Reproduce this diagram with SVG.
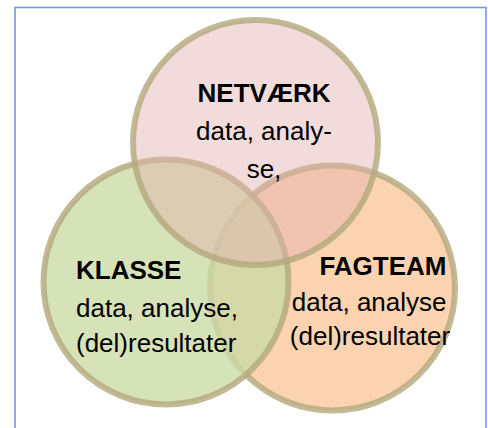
<svg xmlns="http://www.w3.org/2000/svg" width="488" height="428" viewBox="0 0 488 428">
<style>
.c{stroke:#b3a97c;stroke-opacity:0.8;stroke-width:6}
.b{font-family:"Liberation Sans",Arial,sans-serif;font-size:26px;font-weight:bold;fill:#000}
.r{font-family:"Liberation Sans",Arial,sans-serif;font-size:26px;fill:#000}
</style>
<rect width="488" height="428" fill="#fff"/>
<rect id="frame" x="15" y="7.5" width="471" height="440" fill="none" stroke="#6b9be2" stroke-width="1.6"/>
<g id="fagteam">
<circle class="c" cx="332.5" cy="288" r="122.5" fill="#fbd3b0"/>
</g>
<g id="klasse">
<circle class="c" cx="166" cy="282" r="122.5" fill="#ccdba6" fill-opacity="0.8"/>
</g>
<g id="netvaerk">
<circle class="c" cx="255.5" cy="142.5" r="122.5" fill="#e3b2af" fill-opacity="0.45"/>
</g>
<g id="texts">
<text class="b" x="264" y="102" text-anchor="middle">NETVÆRK</text>
<text class="r" x="264" y="140" text-anchor="middle">data, analy-</text>
<text class="r" x="264" y="178" text-anchor="middle">se,</text>
<text class="b" x="76" y="279">KLASSE</text>
<text class="r" x="76" y="316.5">data, analyse,</text>
<text class="r" x="76" y="351.5">(del)resultater</text>
<text class="b" x="446.5" y="275" text-anchor="end">FAGTEAM</text>
<text class="r" x="446.5" y="310.5" text-anchor="end">data, analyse</text>
<text class="r" x="370" y="345" text-anchor="middle">(del)resultater</text>
</g>
<g id="connectors"/>
</svg>
